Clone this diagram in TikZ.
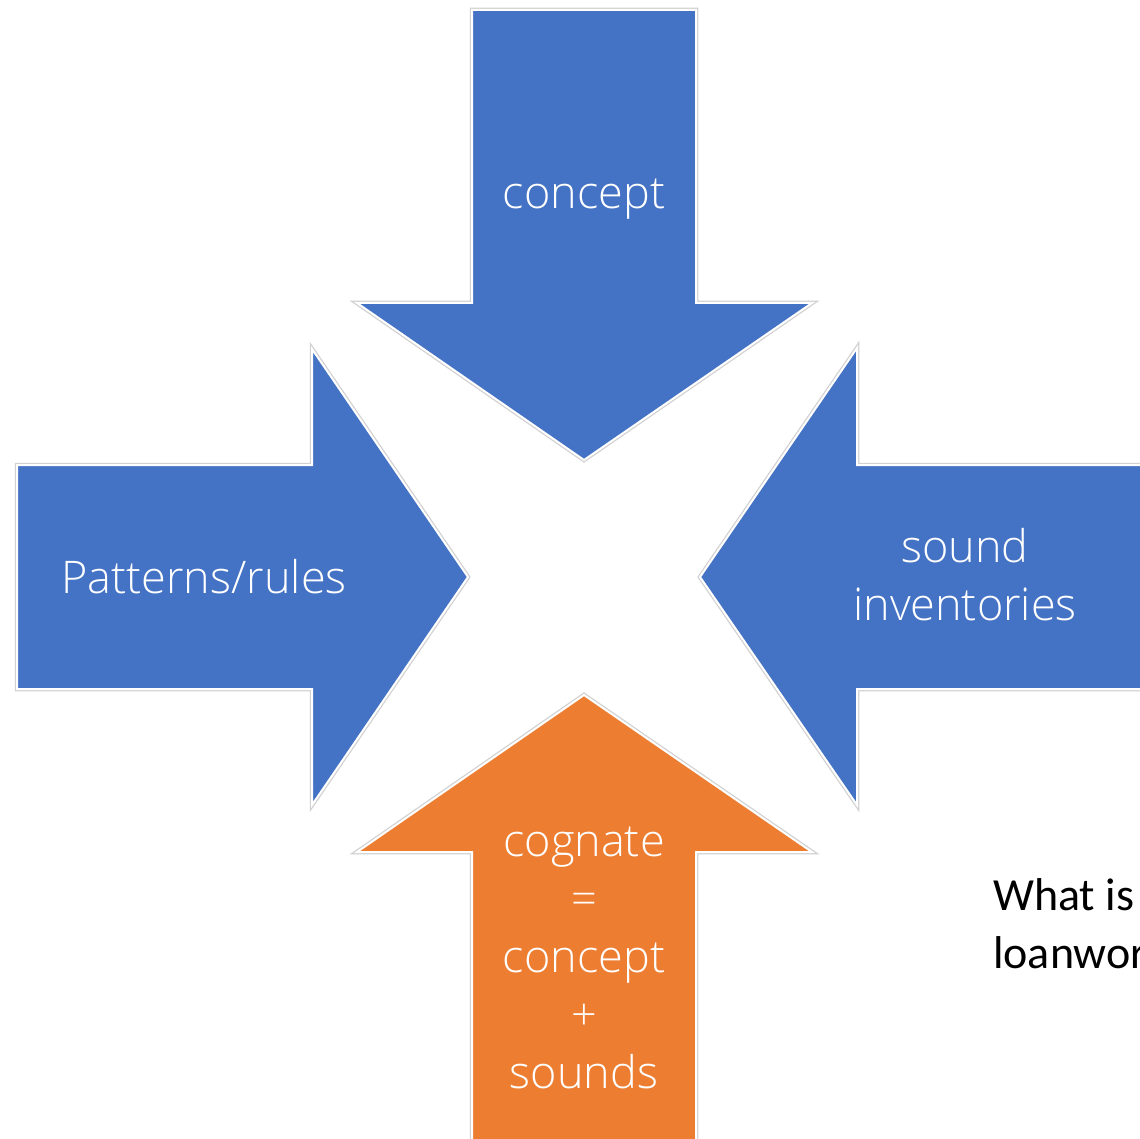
\documentclass[tikz,border=0pt]{standalone}
\usepackage{fontspec}
\setmainfont{Carlito}
\newfontfamily\labelfont{Open Sans Light}
\definecolor{arrowblue}{HTML}{4472C4}
\definecolor{arroworange}{HTML}{ED7D31}
\tikzset{
  bigarrow/.style={fill=#1, draw=white, line width=2pt, line join=miter,
    preaction={draw=black!18, line width=4.5pt}},
  inlabel/.style={text=white, align=center,
    font=\labelfont\fontsize{45}{58}\selectfont},
  sidetext/.style={text=black, align=left, anchor=north west,
    font=\fontsize{46}{58}\selectfont, inner sep=0pt}
}
\begin{document}
\begin{tikzpicture}[x=1pt, y=-1pt]
  \useasboundingbox (0,0) rectangle (1140,1139);
  \clip (0,0) rectangle (1140,1139);
  \fill[white] (0,0) rectangle (1140,1139);

  % four block arrows pointing to the centre
  \path[bigarrow=arrowblue] (472,10) -- (696,10) -- (696,303) -- (812,303)
    -- (584,460) -- (357,303) -- (472,303) -- cycle;
  \path[bigarrow=arrowblue] (17,465) -- (312,465) -- (312,349) -- (468,577)
    -- (312,805) -- (312,689) -- (17,689) -- cycle;
  \path[bigarrow=arrowblue] (1150,465) -- (857,465) -- (857,348) -- (700,577)
    -- (857,805) -- (857,689) -- (1150,689) -- cycle;
  \path[bigarrow=arroworange] (472,1150) -- (472,852) -- (357,852) -- (584,695)
    -- (812,852) -- (696,852) -- (696,1150) -- cycle;

  % labels inside the arrows
  \node[inlabel] (concept) at (584,199) {concept};
  \node[inlabel] (rules) at (204,577) {Patterns/rules};
  \node[inlabel] (sound) at (965,575) {sound\\inventories};
  \node[inlabel] (cognate) at (584,958) {cognate\\=\\concept\\+\\sounds};

  % question beside the diagram
  \node[sidetext] (question) at (993,878) {What is\\loanword};
\end{tikzpicture}
\end{document}
